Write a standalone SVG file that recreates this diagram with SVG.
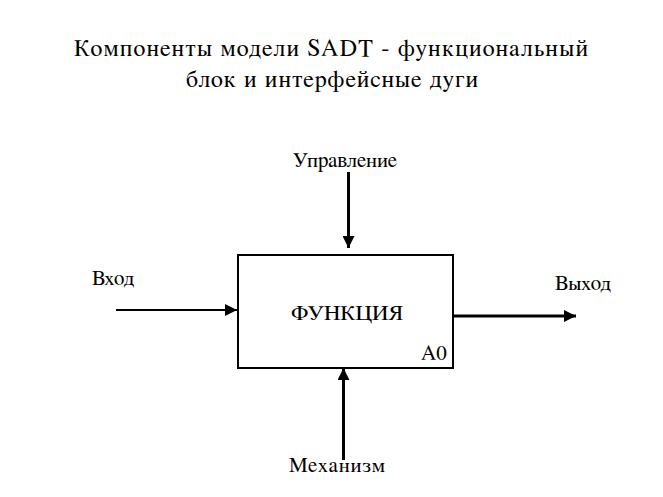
<svg xmlns="http://www.w3.org/2000/svg" width="663" height="497" viewBox="0 0 663 497">
<style>
.thin{stroke:#000;stroke-width:2;fill:none}
.thick{stroke:#000;stroke-width:3;fill:none}
</style>
<defs>
<marker id="ah" viewBox="0 0 12 12" refX="12" refY="6" markerWidth="12" markerHeight="12" markerUnits="userSpaceOnUse" orient="auto">
<path d="M0,0 L12,6 L0,12 Z" fill="#000"/>
</marker>
</defs>
<rect width="663" height="497" fill="#fff"/>
<g id="title">
<text x="74" y="56" font-size="24" font-family="FreeSerif, Tinos, Liberation Serif, serif" textLength="514" lengthAdjust="spacing">Компоненты модели SADT - функциональный</text>
<text x="186" y="87" font-size="24" font-family="FreeSerif, Tinos, Liberation Serif, serif" textLength="292" lengthAdjust="spacing">блок и интерфейсные дуги</text>
</g>
<g id="function">
<rect x="238" y="255" width="215" height="113" fill="#fff" stroke="#000" stroke-width="2"/>
<text x="291" y="320" font-size="21" font-family="FreeSerif, Tinos, Liberation Serif, serif" textLength="112" lengthAdjust="spacingAndGlyphs">ФУНКЦИЯ</text>
<text x="421" y="360" font-size="21" font-family="FreeSerif, Tinos, Liberation Serif, serif">A0</text>
</g>
<g id="connectors">
<line class="thick" x1="348.5" y1="172" x2="348.5" y2="248" marker-end="url(#ah)"/>
<line class="thin" x1="116" y1="310" x2="237" y2="310" marker-end="url(#ah)"/>
<line class="thick" x1="454" y1="316" x2="576" y2="316" marker-end="url(#ah)"/>
<line class="thick" x1="343.5" y1="460" x2="343.5" y2="368" marker-end="url(#ah)"/>
</g>
<g id="labels">
<text x="293" y="167" font-size="21" font-family="FreeSerif, Tinos, Liberation Serif, serif" textLength="104" lengthAdjust="spacing">Управление</text>
<text x="92" y="285" font-size="21" font-family="FreeSerif, Tinos, Liberation Serif, serif">Вход</text>
<text x="555" y="290" font-size="21" font-family="FreeSerif, Tinos, Liberation Serif, serif">Выход</text>
<text x="289" y="472" font-size="21" font-family="FreeSerif, Tinos, Liberation Serif, serif" textLength="96" lengthAdjust="spacing">Механизм</text>
</g>
</svg>
